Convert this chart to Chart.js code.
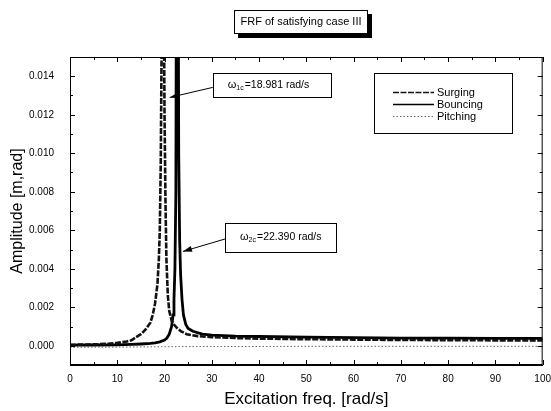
<!DOCTYPE html>
<html>
<head>
<meta charset="utf-8">
<script src="https://cdn.jsdelivr.net/npm/chart.js@4.4.0/dist/chart.umd.min.js"></script>
<style>
  html, body { margin: 0; padding: 0; background: #fff; }
  #wrap { width: 551px; height: 411px; }
</style>
</head>
<body>
<div id="wrap"><canvas id="myChart"></canvas></div>
<script>
// values
const surgingX = [0, 5, 8, 10, 12, 13, 14, 15, 16, 17, 17.5, 18, 18.5, 18.8, 19.0, 19.2, 19.4, 19.6, 19.8, 20.0, 20.2, 20.4, 20.7, 21.0, 21.5, 22.0, 22.6, 23.5, 24.7, 27, 30, 35, 40, 50, 60, 70, 80, 90, 100];
const surgingY = [0.00005, 0.00007, 0.0001, 0.00015, 0.00022, 0.00028, 0.00045, 0.0006, 0.00085, 0.0012, 0.0016, 0.0022, 0.0032, 0.0045, 0.006, 0.0095, 0.016, 0.03, 0.02, 0.012, 0.0075, 0.0045, 0.0026, 0.0018, 0.0013, 0.0011, 0.00093, 0.00075, 0.0006, 0.0005, 0.00045, 0.0004, 0.00037, 0.00034, 0.00032, 0.0003, 0.00029, 0.00028, 0.00028];

const bouncingX = [0, 5, 10, 13, 15, 17, 18, 19, 20, 20.5, 21, 21.5, 21.8, 22.0, 22.2, 22.4, 22.6, 22.8, 23.0, 23.2, 23.4, 23.7, 24.0, 24.5, 25, 26, 28, 30, 35, 40, 50, 60, 70, 80, 90, 100];
const bouncingY = [0.00003, 0.00004, 0.00005, 0.00007, 0.00009, 0.00012, 0.00015, 0.0002, 0.0003, 0.0004, 0.0006, 0.001, 0.0016, 0.0024, 0.004, 0.008, 0.03, 0.03, 0.01, 0.0055, 0.0037, 0.0024, 0.0016, 0.0011, 0.0009, 0.00075, 0.0006, 0.00055, 0.0005, 0.00048, 0.00045, 0.00042, 0.0004, 0.0004, 0.00038, 0.00038];

const pitchingX = [0, 10, 20, 30, 40, 50, 60, 70, 80, 90, 100];
const pitchingY = [-0.00008, -0.00007, -0.00005, -0.00004, -0.00004, -0.00003, -0.00003, -0.00003, -0.00003, -0.00003, -0.00003];

const xTicks = [0, 10, 20, 30, 40, 50, 60, 70, 80, 90, 100];
const yTicks = [0, 0.002, 0.004, 0.006, 0.008, 0.010, 0.012, 0.014];

function pts(xs, ys) {
  return xs.map((v, i) => ({x: v, y: ys[i]}));
}
function mids(t) {
  const step = t[1] - t[0];
  const out = [t[0] - step / 2];
  for (let i = 0; i < t.length; i++) out.push(t[i] + step / 2);
  return out;
}

// notes are placed in data units
const notes = [
  {sub: '1c', text: '=18.981 rad/s', x0: 30.2, x1: 55.2, y0: 0.01415, y1: 0.0129, tipX: 21.1, tipY: 0.0129},
  {sub: '2c', text: '=22.390 rad/s', x0: 32.8, x1: 56.2, y0: 0.0064, y1: 0.0049, tipX: 23.9, tipY: 0.0049}
];

const frame = {
  id: 'frame',
  afterDatasetsDraw(chart) {
    const {ctx, chartArea: a, scales: {x, y}} = chart;
    ctx.save();
    ctx.strokeStyle = '#000';
    ctx.lineWidth = 1;
    ctx.strokeRect(a.left + 0.5, a.top + 0.5, a.right - a.left - 1, a.bottom - a.top - 1);
    ctx.beginPath();
    const xt = (list, len) => list.forEach(v => {
      if (v < 0 || v > 100) return;
      const p = Math.round(x.getPixelForValue(v)) + 0.5;
      ctx.moveTo(p, a.bottom); ctx.lineTo(p, a.bottom - len);
      ctx.moveTo(p, a.top); ctx.lineTo(p, a.top + len);
    });
    const yt = (list, len) => list.forEach(v => {
      const p = Math.round(y.getPixelForValue(v)) + 0.5;
      if (p < a.top || p > a.bottom) return;
      ctx.moveTo(a.left, p); ctx.lineTo(a.left + len, p);
      ctx.moveTo(a.right, p); ctx.lineTo(a.right - len, p);
    });
    xt(xTicks, 5); xt(mids(xTicks), 3);
    yt(yTicks, 5); yt(mids(yTicks), 3);
    ctx.stroke();
    ctx.restore();
  }
};

const extras = {
  id: 'extras',
  afterDraw(chart) {
    const {ctx, scales: {x, y}} = chart;
    ctx.save();
    // title box with shadow
    ctx.fillStyle = '#000';
    ctx.fillRect(238, 14, 134, 24);
    ctx.fillStyle = '#fff';
    ctx.fillRect(234, 10, 134, 24);
    ctx.strokeStyle = '#000';
    ctx.lineWidth = 1;
    ctx.strokeRect(234.5, 10.5, 133, 23);
    ctx.fillStyle = '#000';
    ctx.font = '11px "Liberation Sans", Arial, sans-serif';
    ctx.textAlign = 'center';
    ctx.textBaseline = 'middle';
    ctx.fillText('FRF of satisfying case III', 301, 22);

    // legend
    ctx.strokeRect(374.5, 73.5, 138, 60);
    ctx.textAlign = 'left';
    ctx.font = '11px "Liberation Sans", Arial, sans-serif';
    chart.data.datasets.forEach((ds, i) => {
      const ly = 92 + i * 12;
      ctx.save();
      ctx.strokeStyle = ds.borderColor;
      ctx.lineWidth = Math.min(ds.borderWidth, 1.5);
      ctx.setLineDash(ds.borderDash || []);
      ctx.beginPath();
      ctx.moveTo(393, ly + 0.5); ctx.lineTo(434, ly + 0.5);
      ctx.stroke();
      ctx.restore();
      ctx.fillText(ds.label, 437, ly + 1);
    });

    // frequency notes with arrows
    notes.forEach(n => {
      const l = x.getPixelForValue(n.x0), r = x.getPixelForValue(n.x1);
      const t = y.getPixelForValue(n.y0), b = y.getPixelForValue(n.y1);
      ctx.strokeStyle = '#000';
      ctx.lineWidth = 1;
      ctx.fillStyle = '#fff';
      ctx.fillRect(l, t, r - l, b - t);
      ctx.strokeRect(Math.round(l) + 0.5, Math.round(t) + 0.5, Math.round(r - l), Math.round(b - t));
      const cy = (t + b) / 2;
      ctx.fillStyle = '#000';
      ctx.textBaseline = 'middle';
      ctx.font = '11px "Liberation Sans", Arial, sans-serif';
      ctx.fillText('\u03c9', l + 15, cy);
      const w = ctx.measureText('\u03c9').width;
      ctx.font = '7px "Liberation Sans", Arial, sans-serif';
      ctx.fillText(n.sub, l + 15 + w, cy + 3);
      const w2 = ctx.measureText(n.sub).width;
      ctx.font = '10.5px "Liberation Sans", Arial, sans-serif';
      ctx.fillText(n.text, l + 16 + w + w2, cy);
      // arrow
      const tx = x.getPixelForValue(n.tipX), ty = y.getPixelForValue(n.tipY);
      const sx = l, sy = cy + 2;
      ctx.beginPath();
      ctx.moveTo(sx, sy); ctx.lineTo(tx, ty);
      ctx.stroke();
      const ang = Math.atan2(ty - sy, tx - sx);
      ctx.beginPath();
      ctx.moveTo(tx, ty);
      ctx.lineTo(tx - 9 * Math.cos(ang) + 3 * Math.sin(ang), ty - 9 * Math.sin(ang) - 3 * Math.cos(ang));
      ctx.lineTo(tx - 9 * Math.cos(ang) - 3 * Math.sin(ang), ty - 9 * Math.sin(ang) + 3 * Math.cos(ang));
      ctx.closePath();
      ctx.fill();
    });
    ctx.restore();
  }
};

const ctx = document.getElementById('myChart').getContext('2d');
const chart = new Chart(ctx, {
  type: 'line',
  data: {
    datasets: [{
      label: 'Surging',
      data: pts(surgingX, surgingY),
      borderColor: '#111',
      borderWidth: 2.6,
      borderDash: [6, 1.5],
      pointRadius: 0,
      tension: 0
    }, {
      label: 'Bouncing',
      data: pts(bouncingX, bouncingY),
      borderColor: '#000',
      borderWidth: 2.8,
      pointRadius: 0,
      tension: 0
    }, {
      label: 'Pitching',
      data: pts(pitchingX, pitchingY),
      borderColor: '#666',
      borderWidth: 1,
      borderDash: [1.5, 2],
      pointRadius: 0,
      tension: 0
    }]
  },
  options: {
    responsive: true,
    maintainAspectRatio: false,
    animation: false,
    layout: { padding: { top: 57, right: 8, left: 0, bottom: 0 } },
    plugins: { legend: { display: false }, tooltip: { enabled: false } },
    scales: {
      x: {
        type: 'linear',
        min: 0,
        max: 100,
        afterBuildTicks: s => { s.ticks = xTicks.map(v => ({value: v})); },
        afterFit: s => { s.height = 46; },
        grid: { display: false },
        border: { display: true, color: '#000' },
        ticks: { color: '#000', font: { size: 10, family: '"Liberation Sans", Arial, sans-serif' }, padding: 0, maxRotation: 0 },
        title: { display: true, text: 'Excitation freq. [rad/s]', color: '#000', font: { size: 17, family: '"Liberation Sans", Arial, sans-serif' }, padding: 1 }
      },
      y: {
        min: -0.001,
        max: 0.015,
        afterBuildTicks: s => { s.ticks = yTicks.map(v => ({value: v})); },
        afterFit: s => { s.width = 70; },
        grid: { display: false },
        border: { display: true, color: '#000' },
        ticks: { color: '#000', font: { size: 10, family: '"Liberation Sans", Arial, sans-serif' }, padding: 8, callback: v => v.toFixed(3) },
        title: { display: true, text: 'Amplitude [m,rad]', color: '#000', font: { size: 16, family: '"Liberation Sans", Arial, sans-serif' }, padding: 8 }
      }
    }
  },
  plugins: [frame, extras]
});
</script>
</body>
</html>
